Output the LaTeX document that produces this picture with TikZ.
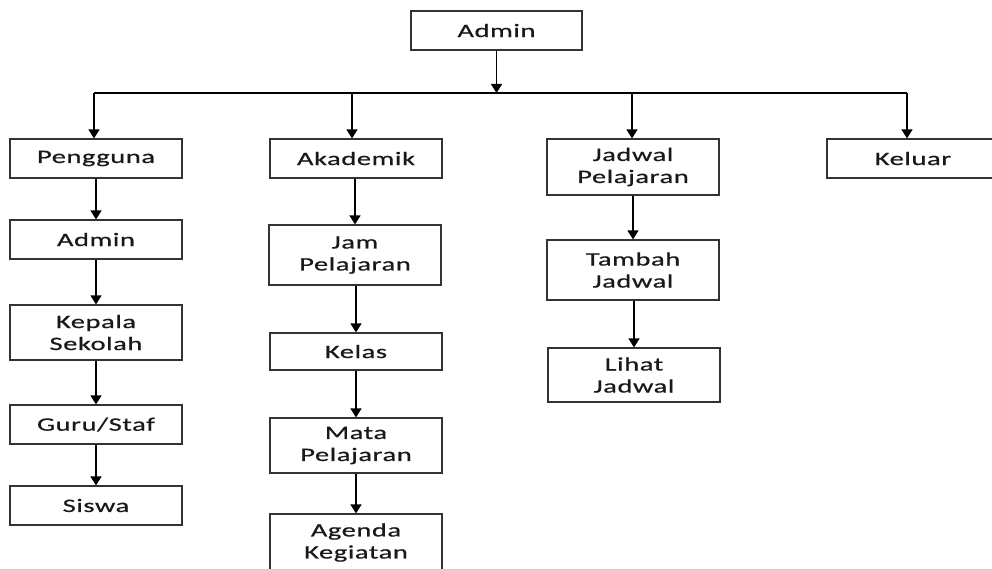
\documentclass[tikz,border=0pt]{standalone}
\usepackage{fontspec}
\setmainfont{Carlito}[FakeStretch=1.5,LetterSpace=3,FakeBold=0.6]
\usetikzlibrary{arrows.meta,positioning}

\begin{document}
\begin{tikzpicture}[x=1pt,y=-1pt]
\useasboundingbox (0,0) rectangle (992,569);
\begin{scope}[every node/.style={draw=black!80,line width=1.2pt,minimum width=172pt,
              inner sep=0pt,align=center,text=black!90,font=\fontsize{19}{22}\selectfont}]
    \node[minimum width=171pt,minimum height=39pt] (admin) at (496.5,30.5) {Admin};
    \node[minimum height=39pt] (pengguna) at (96,158.5) {Pengguna};
    \node[minimum height=39pt] (adminU) at (96,239.5) {Admin};
    \node[minimum height=55pt] (kepala) at (96,332.5) {Kepala\\Sekolah};
    \node[minimum height=39pt] (guru) at (96,424.5) {Guru/Staf};
    \node[minimum height=39pt] (siswa) at (96,505.5) {Siswa};
    \node[minimum height=39pt] (akademik) at (356,158.5) {Akademik};
    \node[minimum height=60pt] (jam) at (355,255) {Jam\\Pelajaran};
    \node[minimum height=37pt] (kelas) at (356,351.5) {Kelas};
    \node[minimum height=55pt] (mata) at (356,445.5) {Mata\\Pelajaran};
    \node[minimum height=57pt] (agenda) at (356,542.5) {Agenda\\Kegiatan};
    \node[minimum height=56pt] (jadwal) at (633,167) {Jadwal\\Pelajaran};
    \node[minimum height=60pt] (tambah) at (633,270) {Tambah\\Jadwal};
    \node[minimum height=54pt] (lihat) at (634,375) {Lihat\\Jadwal};
    \node[minimum height=39pt] (keluar) at (913,158.5) {Keluar};
\end{scope}

\coordinate (b1) at (94,93);
\coordinate (b2) at (352,93);
\coordinate (b3) at (632,93);
\coordinate (b4) at (907,93);

\begin{scope}[>={Triangle[width=11pt,length=9pt]},
              every path/.style={draw=black,line width=1.5pt}]
    \draw[->] (admin.south) -- (admin.south |- b1);
    \draw (b1) -- (b4);
    \draw[->] (b1) -- (b1 |- pengguna.north);
    \draw[->] (b2) -- (b2 |- akademik.north);
    \draw[->] (b3) -- (b3 |- jadwal.north);
    \draw[->] (b4) -- (b4 |- keluar.north);
    \draw[->] (pengguna) -- (adminU);
    \draw[->] (adminU) -- (kepala);
    \draw[->] (kepala) -- (guru);
    \draw[->] (guru) -- (siswa);
    \draw[->] (akademik.south -| jam) -- (jam);
    \draw[->] (jam.south -| kelas) -- (kelas);
    \draw[->] (kelas) -- (mata);
    \draw[->] (mata) -- (agenda);
    \draw[->] (jadwal.south -| tambah) -- (tambah);
    \draw[->] (tambah.south -| lihat) -- (lihat);
\end{scope}
\end{tikzpicture}
\end{document}
